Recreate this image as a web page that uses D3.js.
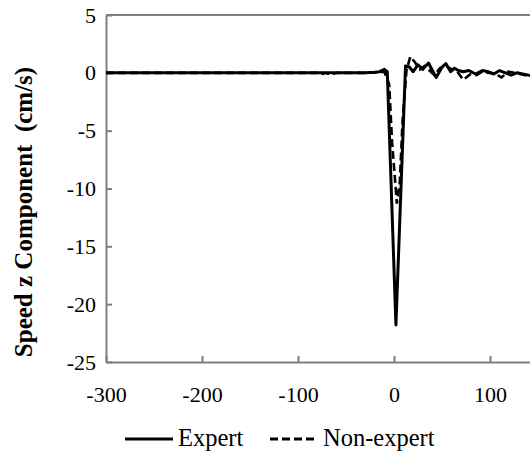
<!DOCTYPE html>
<html>
<head>
<meta charset="utf-8">
<script src="https://cdn.jsdelivr.net/npm/d3@7"></script>
<style>
  body { margin: 0; background: #fff; }
  svg text { font-family: "Liberation Serif", "Times New Roman", Times, "DejaVu Serif", "Noto Serif", serif; }
</style>
</head>
<body>
<div id="chart"></div>
<script>
(function(d3) {
  'use strict';

  // time (ms) and speed values
  var expertTime = [-300, -30, -20, -15, -10, -7, 2, 12, 16, 20, 25, 30, 36, 40, 44, 50, 54, 59, 63, 67, 72, 78, 85, 92, 98, 104, 110, 116, 122, 128, 134, 140, 146];
  var expertSpeed = [0, 0, 0.05, 0.1, 0.3, 0.1, -21.8, 0.6, 0.5, 0.1, 0.7, 0.3, 0.85, 0.2, -0.4, 0.5, 0.8, 0.1, 0.4, 0.2, 0.1, 0.2, -0.1, 0.2, 0.1, -0.1, 0.2, 0, -0.2, 0, -0.1, -0.2, -0.3];

  var nonExpertTime = [-300, -80, -76, -72, -66, -60, -30, -15, -10, -5, -2, 3, 6, 9, 13, 17, 22, 27, 32, 37, 42, 48, 54, 60, 66, 72, 80, 86, 92, 98, 106, 112, 119, 125, 131, 137, 143];
  var nonExpertSpeed = [0, 0, -0.15, 0, -0.15, 0, 0, 0.05, 0.1, -1, -6, -11.3, -9.5, -4, 0.2, 1.4, 0.9, 0.3, 0.6, 0.2, -0.2, 0.4, 0.6, 0.3, 0.1, -0.6, -0.1, -0.2, 0.1, 0, -0.1, -0.4, 0.1, 0, -0.1, -0.2, -0.3];

  var xTicks = [-300, -200, -100, 0, 100];
  var yTicks = [-25, -20, -15, -10, -5, 0, 5];

  var width = 530, height = 455;
  var margin = { left: 106, top: 15 };
  var plotRight = 586, plotBottom = 362;
  var serif = '"Liberation Serif", "Times New Roman", Times, "DejaVu Serif", "Noto Serif", serif';

  var x = d3.scaleLinear().domain([-300, 200]).range([margin.left, plotRight]);
  var y = d3.scaleLinear().domain([-25, 5]).range([plotBottom, margin.top]);

  var svg = d3.select('#chart').append('svg')
    .attr('width', width)
    .attr('height', height);

  var axisColor = '#7f7f7f';
  var plain = function(d) { return String(d); }; // hyphen, not unicode minus

  // bottom axis, ticks point inward
  var xAxis = svg.append('g')
    .attr('transform', 'translate(0,' + plotBottom + ')')
    .call(d3.axisBottom(x).tickValues(xTicks).tickFormat(plain)
      .tickSizeInner(-6).tickSizeOuter(0).tickPadding(24));

  var yAxis = svg.append('g')
    .attr('transform', 'translate(' + margin.left + ',0)')
    .call(d3.axisLeft(y).tickValues(yTicks).tickFormat(plain)
      .tickSizeInner(-6).tickSizeOuter(0).tickPadding(10));

  [xAxis, yAxis].forEach(function(a) {
    a.attr('font-family', serif);
    a.select('.domain').attr('stroke', axisColor).attr('stroke-width', 2);
    a.selectAll('.tick line').attr('stroke', axisColor).attr('stroke-width', 2);
    a.selectAll('.tick text')
      .attr('fill', '#000')
      .style('font-size', '22px');
  });

  // top border of the plot area
  svg.append('line')
    .attr('x1', margin.left).attr('x2', plotRight)
    .attr('y1', margin.top).attr('y2', margin.top)
    .attr('stroke', axisColor).attr('stroke-width', 2);

  var line = d3.line()
    .x(function(d) { return x(d[0]); })
    .y(function(d) { return y(d[1]); });

  var expert = d3.zip(expertTime, expertSpeed);
  var nonExpert = d3.zip(nonExpertTime, nonExpertSpeed);

  svg.append('path')
    .datum(nonExpert)
    .attr('d', line)
    .attr('fill', 'none')
    .attr('stroke', '#000')
    .attr('stroke-width', 2.6)
    .attr('stroke-dasharray', '8,4');

  svg.append('path')
    .datum(expert)
    .attr('d', line)
    .attr('fill', 'none')
    .attr('stroke', '#000')
    .attr('stroke-width', 3)
    .attr('stroke-linejoin', 'round');

  // y label
  svg.append('text')
    .attr('transform', 'translate(32,212) rotate(-90)')
    .attr('text-anchor', 'middle')
    .attr('font-weight', 'bold')
    .attr('font-size', '25px')
    .attr('xml:space', 'preserve')
    .text('Speed z Component  (cm/s)');

  // legend
  var legend = [
    { name: 'Expert', x: 125, dash: null },
    { name: 'Non-expert', x: 270, dash: '8,4' }
  ];
  var lg = svg.selectAll('g.legend').data(legend).enter().append('g').attr('class', 'legend');
  lg.append('line')
    .attr('x1', function(d) { return d.x; })
    .attr('x2', function(d) { return d.x + 48; })
    .attr('y1', 439).attr('y2', 439)
    .attr('stroke', '#000').attr('stroke-width', 3)
    .attr('stroke-dasharray', function(d) { return d.dash; });
  lg.append('text')
    .attr('x', function(d) { return d.x + 53; })
    .attr('y', 446)
    .attr('font-size', '24.5px')
    .text(function(d) { return d.name; });
}(d3));
</script>
</body>
</html>
